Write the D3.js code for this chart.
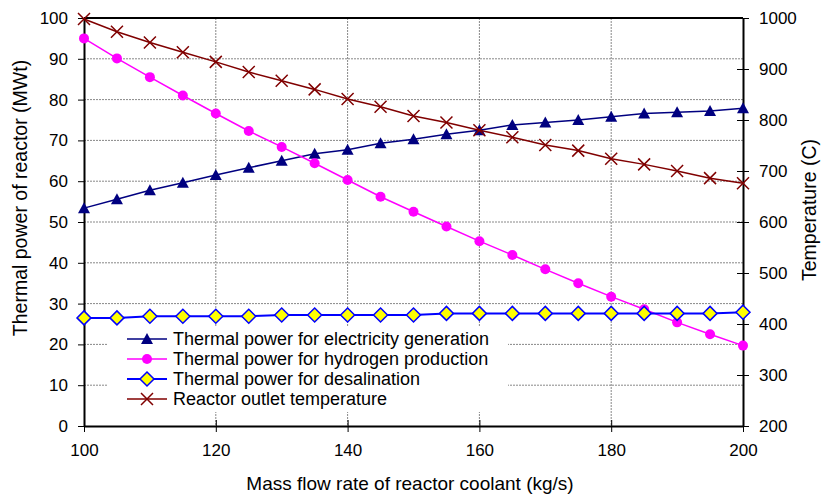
<!DOCTYPE html>
<meta charset="utf-8">
<style>
  body { margin: 0; background: #fff; }
  text { font-family: "Liberation Sans", Arial, sans-serif; fill: #000; }
</style>
<script src="https://d3js.org/d3.v7.min.js"></script>
<div id="chart"></div>
<script>
// data
const flow = [100, 105, 110, 115, 120, 125, 130, 135, 140, 145, 150, 155, 160, 165, 170, 175, 180, 185, 190, 195, 200];
const elec = [53.4, 55.6, 57.8, 59.6, 61.5, 63.3, 65.0, 66.7, 67.7, 69.3, 70.3, 71.5, 72.5, 73.8, 74.4, 75.0, 75.8, 76.6, 76.9, 77.2, 77.9];
const hydro = [95.0, 90.1, 85.5, 81.0, 76.6, 72.3, 68.4, 64.4, 60.3, 56.2, 52.5, 48.9, 45.3, 41.9, 38.4, 35.0, 31.7, 28.6, 25.4, 22.5, 19.7];
const desal = [26.5, 26.5, 26.9, 26.9, 26.9, 26.9, 27.2, 27.2, 27.2, 27.2, 27.2, 27.6, 27.6, 27.6, 27.6, 27.6, 27.6, 27.6, 27.6, 27.6, 27.9];
const temp = [998, 973, 952, 933, 914, 894, 877, 860, 841, 826, 808, 795, 780, 766, 751, 740, 724, 713, 700, 686, 676];

const xTicks = [100, 120, 140, 160, 180, 200];
const yTicks = [0, 10, 20, 30, 40, 50, 60, 70, 80, 90, 100];
const tTicks = [200, 300, 400, 500, 600, 700, 800, 900, 1000];

const legendNames = [
  "Thermal power for electricity generation",
  "Thermal power for hydrogen production",
  "Thermal power for desalination",
  "Reactor outlet temperature"
];

const W = 822, H = 495;
const margin = {top: 18, right: 79, bottom: 69, left: 84};
const width = W - margin.left - margin.right,
      height = H - margin.top - margin.bottom;

const svg = d3.select("#chart").append("svg")
  .attr("width", W).attr("height", H);
const g = svg.append("g").attr("transform", `translate(${margin.left},${margin.top})`);

const x = d3.scaleLinear().domain([100, 200]).range([0, width]);
const y = d3.scaleLinear().domain([0, 100]).range([height, 0]);
const yT = d3.scaleLinear().domain([200, 1000]).range([height, 0]);

// gridlines
g.append("g").selectAll("line").data(yTicks.slice(1, -1)).join("line")
  .attr("x1", 0).attr("x2", width)
  .attr("y1", d => y(d)).attr("y2", d => y(d))
  .attr("stroke", "#888").attr("stroke-width", 1).attr("stroke-dasharray", "2,1");
g.append("g").selectAll("line").data(xTicks.slice(1, -1)).join("line")
  .attr("y1", 0).attr("y2", height)
  .attr("x1", d => x(d)).attr("x2", d => x(d))
  .attr("stroke", "#888").attr("stroke-width", 1).attr("stroke-dasharray", "2,1");

// top border
g.append("line").attr("x1", 0).attr("x2", width).attr("y1", 0).attr("y2", 0)
  .attr("stroke", "#000").attr("stroke-width", 2);

// axes
const fs = "17px";
const xAxis = g.append("g").attr("transform", `translate(0,${height})`)
  .call(d3.axisBottom(x).tickValues(xTicks).tickSizeInner(6).tickSizeOuter(0).tickPadding(12));
xAxis.selectAll(".tick line").attr("y1", -6);
const yAxis = g.append("g")
  .call(d3.axisLeft(y).tickValues(yTicks).tickSizeInner(6).tickSizeOuter(0).tickPadding(10));
const tAxis = g.append("g").attr("transform", `translate(${width},0)`)
  .call(d3.axisRight(yT).tickValues(tTicks).tickFormat(d3.format("d"))
    .tickSizeInner(6).tickSizeOuter(0).tickPadding(10));
tAxis.selectAll(".tick line").attr("x1", -6);
[xAxis, yAxis, tAxis].forEach(a => {
  a.select(".domain").attr("stroke-width", 2);
  a.selectAll(".tick line").attr("stroke-width", 1);
  a.selectAll("text").style("font-size", fs).style("font-family", "Liberation Sans, Arial, sans-serif");
});

// axis titles
const tfs = "19.5px";
svg.append("text").attr("transform", "translate(20,198) rotate(-90)")
  .attr("text-anchor", "middle").attr("dominant-baseline", "central")
  .style("font-size", tfs).text("Thermal power of reactor (MWt)");
svg.append("text").attr("transform", "translate(809,210) rotate(-90)")
  .attr("text-anchor", "middle").attr("dominant-baseline", "central")
  .style("font-size", tfs).text("Temperature (C)");
svg.append("text").attr("x", 410).attr("y", 483)
  .attr("text-anchor", "middle").attr("dominant-baseline", "central")
  .style("font-size", "19px").text("Mass flow rate of reactor coolant (kg/s)");

// series
const series = [
  {vals: elec, sc: y, color: "#000080", lw: 1.5, marker: "tri"},
  {vals: hydro, sc: y, color: "#FF00FF", lw: 1.5, marker: "circ"},
  {vals: desal, sc: y, color: "#0000FF", lw: 2, marker: "dia"},
  {vals: temp, sc: yT, color: "#800000", lw: 1.5, marker: "cross"}
];

function drawMarker(sel, type, color) {
  if (type === "tri") {
    sel.append("path").attr("d", "M0,-6L6,5L-6,5Z").attr("fill", color);
  } else if (type === "circ") {
    sel.append("circle").attr("r", 5).attr("fill", color);
  } else if (type === "dia") {
    sel.append("path").attr("d", "M0,-7L7,0L0,7L-7,0Z")
      .attr("fill", "#FFFF00").attr("stroke", color).attr("stroke-width", 1.5);
  } else {
    sel.append("path").attr("d", "M-6,-6L6,6M-6,6L6,-6")
      .attr("stroke", color).attr("stroke-width", 1.5).attr("fill", "none");
  }
}

series.forEach(s => {
  const pts = flow.map((f, i) => [f, s.vals[i]]);
  g.append("path").datum(pts)
    .attr("fill", "none").attr("stroke", s.color).attr("stroke-width", s.lw)
    .attr("d", d3.line().x(d => x(d[0])).y(d => s.sc(d[1])));
  g.append("g").selectAll("g").data(pts).join("g")
    .attr("transform", d => `translate(${x(d[0])},${s.sc(d[1])})`)
    .each(function () { drawMarker(d3.select(this), s.marker, s.color); });
});

// legend
const lg = svg.append("g").attr("transform", "translate(107,326)");
lg.append("rect").attr("width", 401).attr("height", 86).attr("fill", "#fff");
legendNames.forEach((name, i) => {
  const row = lg.append("g").attr("transform", `translate(0,${13 + i * 20})`);
  const s = series[i];
  row.append("line").attr("x1", 20).attr("x2", 60).attr("y1", 0).attr("y2", 0)
    .attr("stroke", s.color).attr("stroke-width", s.lw);
  const m = row.append("g").attr("transform", "translate(40,0)");
  drawMarker(m, s.marker, s.color);
  row.append("text").attr("x", 66).attr("y", 0).attr("dominant-baseline", "central")
    .style("font-size", "18px").text(name);
});
</script>
